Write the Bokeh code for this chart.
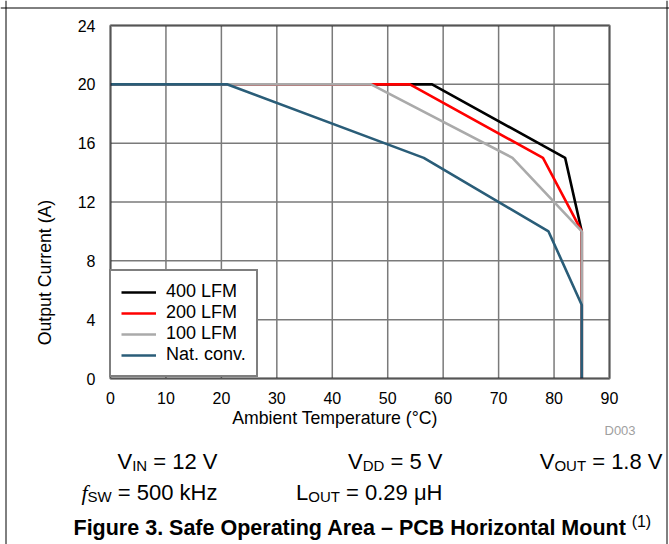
from bokeh.plotting import figure
from bokeh.models import (Range1d, FixedTicker, Legend, LegendItem, Label, BoxAnnotation,
                          LinearAxis, Span)
from bokeh.embed import file_html
from bokeh.resources import INLINE

# ---------------- data ----------------
temp_400 = [0, 58, 82, 85, 85]
cur_400 = [20, 20, 15, 10, 0]
temp_200 = [0, 54, 78, 85, 85]
cur_200 = [20, 20, 15, 10, 0]
temp_100 = [0, 47, 72.5, 85, 85]
cur_100 = [20, 20, 15, 10, 0]
temp_nat = [0, 21, 56.5, 79, 85, 85]
cur_nat = [20, 20, 15, 10, 5, 0]
series_names = ["400 LFM", "200 LFM", "100 LFM", "Nat. conv."]
series_colors = ["#000000", "#ff0000", "#aaaaaa", "#2a5d78"]
x_ticks = [0, 10, 20, 30, 40, 50, 60, 70, 80, 90]
y_ticks = [0, 4, 8, 12, 16, 20, 24]

FONT = "Liberation Sans"

# ---------------- layout (pixels) ----------------
W, H = 669, 544
PX_X0, PX_X1 = 110, 609      # pixel columns of the chart box
PX_Y0, PX_Y1 = 378, 25       # pixel rows of the chart box (bottom, top)
sx = (PX_X1 - PX_X0) / (x_ticks[-1] - x_ticks[0])
sy = (PX_Y0 - PX_Y1) / (y_ticks[-1] - y_ticks[0])


def px2x(px):
    return x_ticks[0] + (px - PX_X0) / sx


def py2y(py):
    return y_ticks[0] + (PX_Y0 - py) / sy


p = figure(width=W, height=H, output_backend="svg", toolbar_location=None,
           x_range=Range1d(px2x(0), px2x(W)), y_range=Range1d(py2y(H), py2y(0)),
           x_axis_location=None, y_axis_location=None, title_location=None,
           min_border=0, min_border_left=0, min_border_right=0,
           min_border_top=0, min_border_bottom=0)
p.outline_line_color = None
p.background_fill_color = "white"
p.border_fill_color = "white"
p.xgrid.visible = False
p.ygrid.visible = False

# grid lines, from the tick lists
p.segment(x0=x_ticks, y0=[y_ticks[0]] * len(x_ticks), x1=x_ticks, y1=[y_ticks[-1]] * len(x_ticks),
          line_color="#7a7a7a", line_width=1.5)
p.segment(x0=[x_ticks[0]] * len(y_ticks), y0=y_ticks, x1=[x_ticks[-1]] * len(y_ticks), y1=y_ticks,
          line_color="#7a7a7a", line_width=1.5)

# axes fixed at the chart box edges
xaxis = LinearAxis(fixed_location=y_ticks[0], ticker=FixedTicker(ticks=x_ticks),
                   axis_label="Ambient Temperature (°C)")
yaxis = LinearAxis(fixed_location=x_ticks[0], ticker=FixedTicker(ticks=y_ticks),
                   axis_label="Output Current (A)")
for ax in (xaxis, yaxis):
    ax.axis_line_color = None
    ax.major_tick_line_color = None
    ax.minor_tick_line_color = None
    ax.major_tick_out = 0
    ax.major_tick_in = 0
    ax.minor_tick_out = 0
    ax.minor_tick_in = 0
    ax.major_label_text_font = FONT
    ax.major_label_text_font_size = "16px"
    ax.major_label_text_color = "black"
    ax.axis_label_text_font = FONT
    ax.axis_label_text_font_size = "17.7px"
    ax.axis_label_text_font_style = "normal"
    ax.axis_label_text_color = "black"
xaxis.major_label_standoff = 13
xaxis.axis_label_standoff = 1
yaxis.major_label_standoff = 15
yaxis.axis_label_standoff = 20
p.add_layout(xaxis, "below")
p.add_layout(yaxis, "left")

# series
renderers = []
for xs, ys, c in zip([temp_400, temp_200, temp_100, temp_nat],
                     [cur_400, cur_200, cur_100, cur_nat], series_colors):
    renderers.append(p.line(xs, ys, line_color=c, line_width=2.6))

# chart box outline
p.add_layout(BoxAnnotation(left=x_ticks[0], right=x_ticks[-1], bottom=y_ticks[0], top=y_ticks[-1],
                           fill_alpha=0, line_color="black", line_width=3))

# page frame lines
p.add_layout(Span(location=px2x(5.5), dimension="height", line_color="black", line_width=1))
p.add_layout(Span(location=px2x(666.5), dimension="height", line_color="black", line_width=1))
p.add_layout(Span(location=py2y(7.5), dimension="width", line_color="black", line_width=1))

# ------------- condition texts and caption -------------
REG = {' ': 278, '=': 584, '.': 278, 'V': 667, 'I': 278, 'N': 722, 'D': 722, 'O': 778,
       'U': 722, 'T': 611, 'S': 667, 'W': 944, 'L': 556, 'H': 722, 'k': 500, 'z': 500,
       'μ': 576, 'f': 278, '(': 333, ')': 333}
BOLD = {' ': 278, 'F': 611, 'i': 278, 'g': 611, 'u': 611, 'r': 389, 'e': 556, '3': 556,
        '.': 278, 'S': 667, 'a': 556, 'f': 333, 'O': 778, 'p': 611, 't': 333, 'n': 611,
        'A': 722, '–': 556, 'P': 667, 'C': 722, 'B': 722, 'H': 722, 'o': 611, 'z': 500,
        'l': 278, 'M': 833}


def tw(s, size, table):
    return sum(table.get(c, 556) for c in s) * size / 1000.0


def add_text(px, py, txt, size, font=FONT, style="normal", color="black", baseline="alphabetic"):
    p.add_layout(Label(x=px2x(px), y=py2y(py), text=txt,
                       text_font=font, text_font_size=f"{size}px", text_font_style=style,
                       text_color=color, text_baseline=baseline, text_align="left"))


MAIN, SUB = 22, 15


def piece_w(txt, kind):
    return tw(txt, SUB if kind == "sub" else MAIN, REG)


def rich_right(px_end, py, parts):
    total = sum(piece_w(t, k) for t, k in parts)
    cx = px_end - total
    for txt, kind in parts:
        if kind == "sub":
            add_text(cx, py + 3.5, txt, SUB)
        elif kind == "it":
            add_text(cx, py, txt, MAIN, font="Liberation Serif", style="italic")
        else:
            lead = len(txt) - len(txt.lstrip(" "))
            add_text(cx + tw(" " * lead, MAIN, REG), py, txt.lstrip(" "), MAIN)
        cx += piece_w(txt, kind)


ROW1, ROW2, ROW3 = 461, 492, 527
COL1, COL2, COL3 = 217, 442, 662
rich_right(COL1, ROW1, [("V", "n"), ("IN", "sub"), (" = 12 V", "n")])
rich_right(COL2, ROW1, [("V", "n"), ("DD", "sub"), (" = 5 V", "n")])
rich_right(COL3, ROW1, [("V", "n"), ("OUT", "sub"), (" = 1.8 V", "n")])
rich_right(COL1, ROW2, [("f", "it"), ("SW", "sub"), (" = 500 kHz", "n")])
rich_right(COL2, ROW2, [("L", "n"), ("OUT", "sub"), (" = 0.29 μH", "n")])

title = "Figure 3. Safe Operating Area – PCB Horizontal Mount"
TSIZE = 21.5
add_text(73, ROW3, title, TSIZE, style="bold")
add_text(73 + tw(title, TSIZE, BOLD) + 5, ROW3 - 6, "(1)", 16)

add_text(604, 430, "D003", 13, color="#a0a0a0", baseline="middle")

legend = Legend(items=[LegendItem(label=n, renderers=[r]) for n, r in zip(series_names, renderers)],
                location=(109, H - 377), margin=0, padding=10, spacing=0,
                glyph_width=35, glyph_height=20, label_height=20, label_standoff=10,
                label_text_font=FONT, label_text_font_size="18px", label_text_color="black",
                border_line_color="black", border_line_width=2.5,
                background_fill_color="white", background_fill_alpha=1)
p.add_layout(legend, "center")

open("out.html", "w").write(file_html(p, INLINE))
